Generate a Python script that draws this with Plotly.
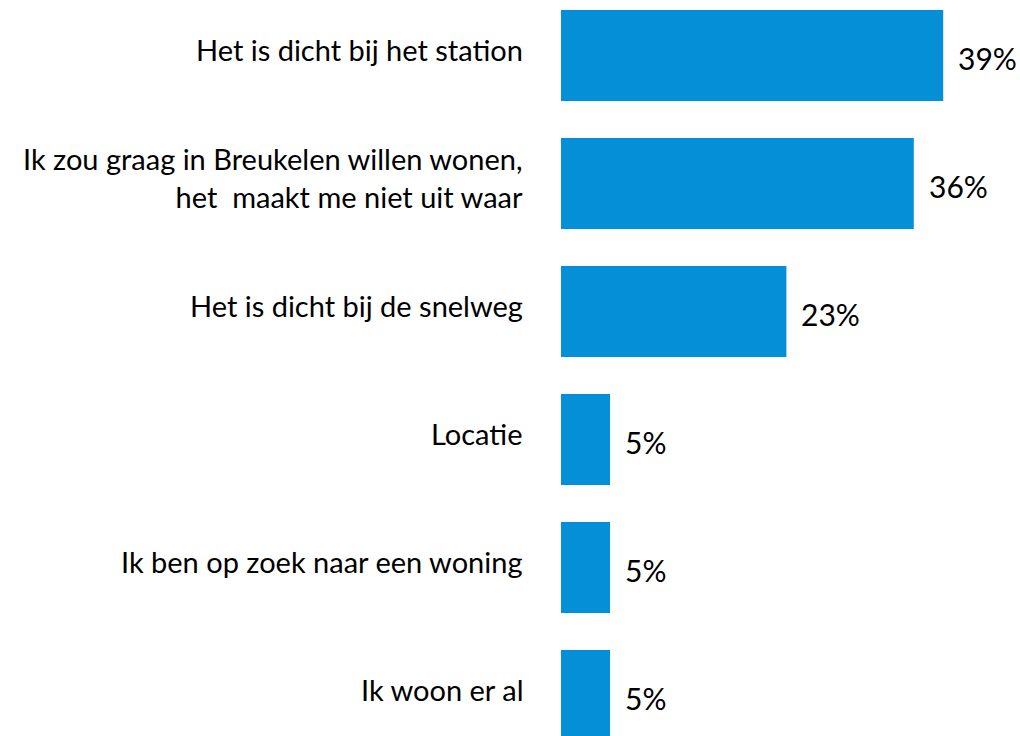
import plotly.graph_objects as go

categories = [
    "Het is dicht bij het station",
    "Ik zou graag in Breukelen willen wonen,<br>het  maakt me niet uit waar",
    "Het is dicht bij de snelweg",
    "Locatie",
    "Ik ben op zoek naar een woning",
    "Ik woon er al",
]
values = [39, 36, 23, 5, 5, 5]
value_labels = ["39%", "36%", "23%", "5%", "5%", "5%"]

FONT = "Lato"
BAR_COLOR = "#048FD6"

W, H = 1020, 736
LEFT = 561
PX_PER_UNIT = 9.8
UNIT_PX = 128
FIRST_CENTER = 55.5

idx = list(range(len(categories)))

fig = go.Figure()
fig.add_trace(go.Bar(
    x=values, y=idx, orientation="h",
    marker=dict(color=BAR_COLOR, line=dict(width=0)),
    width=91 / UNIT_PX,
    hoverinfo="skip",
))

annotations = []
for i, (c, v, lab) in enumerate(zip(categories, values, value_labels)):
    annotations.append(dict(
        x=-36 / (W - LEFT), xref="paper", y=i, yref="y",
        text=c, showarrow=False, xanchor="right", yanchor="middle",
        align="right", yshift=6,
        font=dict(family=FONT, size=29, color="#000000"),
    ))
    annotations.append(dict(
        x=v, xref="x", y=i, yref="y",
        text=lab, showarrow=False, xanchor="left", yanchor="middle",
        xshift=13, yshift=-2,
        font=dict(family=FONT, size=30, color="#000000"),
    ))

fig.update_layout(
    width=W, height=H,
    margin=dict(l=LEFT, r=0, t=0, b=0),
    paper_bgcolor="white", plot_bgcolor="white",
    showlegend=False,
    xaxis=dict(range=[0, (W - LEFT) / PX_PER_UNIT], visible=False, fixedrange=True),
    yaxis=dict(range=[(H - FIRST_CENTER) / UNIT_PX, -FIRST_CENTER / UNIT_PX],
               visible=False, fixedrange=True),
    annotations=annotations,
)

fig.write_html(
    "out.html",
    config={"displayModeBar": False, "staticPlot": True},
    post_script="document.body.style.margin='0';document.body.style.overflow='hidden';",
)
